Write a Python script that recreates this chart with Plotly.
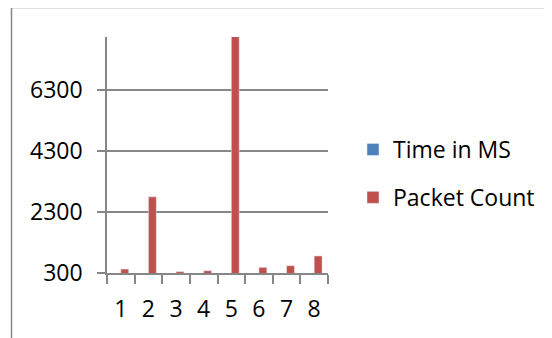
import plotly.graph_objects as go

categories = ["1", "2", "3", "4", "5", "6", "7", "8"]
time_in_ms = [40, 35, 30, 30, 45, 35, 40, 45]
packet_count = [430, 2800, 345, 375, 8200, 485, 540, 860]
y_ticks = [300, 2300, 4300, 6300]

# page body has an 8px margin; work in window pixels and shift
OFF = 8
W, H = 552 - OFF, 338 - OFF
L, R, T, B = 107 - OFF, 328 - OFF, 37 - OFF, 273 - OFF
pw, ph = R - L, B - T

def px_x(x):
    return (x - OFF - L) / pw

def px_y(y):
    return (B - (y - OFF)) / ph

fig = go.Figure()
fig.add_trace(go.Bar(x=categories, y=time_in_ms, name="Time in MS",
                     marker_color="#4F81BD", legendgroup="a"))
fig.add_trace(go.Bar(x=categories, y=packet_count, name="Packet Count",
                     marker_color="#C0504D", legendgroup="b"))

font = dict(family="Open Sans", size=23, color="#000000")
fig.update_layout(
    width=W, height=H,
    margin=dict(l=L, r=W - R, t=T, b=H - B, pad=0),
    paper_bgcolor="white", plot_bgcolor="white",
    barmode="group", bargap=0.4286, bargroupgap=0,
    font=font,
    showlegend=True,
    legend=dict(x=px_x(353), y=px_y(128), xanchor="left", yanchor="top",
                font=font, tracegroupgap=15, bgcolor="rgba(0,0,0,0)"),
    xaxis=dict(type="category", tickmode="array", tickvals=categories,
               showgrid=False, showline=True, linecolor="#868686",
               linewidth=1.5, ticks="outside", tickson="boundaries", ticklen=9,
               tickcolor="#868686", tickwidth=1.5, tickfont=font,
               ticklabelstandoff=15),
    yaxis=dict(range=[300, 8050], tickvals=y_ticks, showgrid=True,
               gridcolor="#868686", gridwidth=1.5, showline=True,
               linecolor="#868686", linewidth=1.5, ticks="outside", ticklen=8,
               tickcolor="#868686", tickwidth=1.5, tickfont=font,
               ticklabelstandoff=10, zeroline=False),
    shapes=[dict(type="rect", xref="paper", yref="paper",
                 x0=px_x(11.5), x1=px_x(570), y0=px_y(360), y1=px_y(7.5),
                 line=dict(color="#868686", width=1.5), layer="below")],
)

fig.write_html("out.html")
